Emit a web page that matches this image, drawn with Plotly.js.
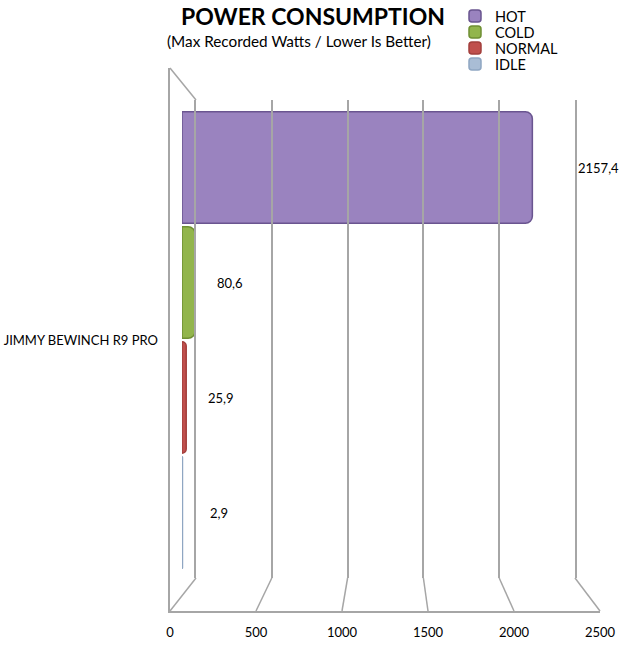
<!DOCTYPE html>
<html>
<head>
<meta charset="utf-8">
<script src="https://cdn.plot.ly/plotly-3.0.1.min.js"></script>
<style>
  html, body { margin: 0; padding: 0; background: #fff; }
  #chart { width: 620px; height: 650px; }
</style>
</head>
<body>
<div id="chart"></div>
<script>
// data
var category = 'JIMMY BEWINCH R9 PRO';
var seriesNames = ['IDLE', 'NORMAL', 'COLD', 'HOT'];
var seriesValues = [2.9, 25.9, 80.6, 2157.4];
var axisTicks = [0, 500, 1000, 1500, 2000, 2500];

var W = 620, H = 650;
function px(x) { return x / W; }
function py(y) { return 1 - y / H; }

var colors = {
    IDLE: '#a9bdd5',
    NORMAL: '#c0504d',
    COLD: '#92b54c',
    HOT: '#9a83bf'
};
var edges = {
    IDLE: '#8fa6c2',
    NORMAL: '#a33f3c',
    COLD: '#6f8f33',
    HOT: '#6a5590'
};
var labelShift = { IDLE: 26, NORMAL: 20, COLD: 20, HOT: 44 };
// one small legend per series so the rows can sit 16px apart
var legendIds = { HOT: 'legend', COLD: 'legend2', NORMAL: 'legend3', IDLE: 'legend4' };
var legendRow = { HOT: 0, COLD: 1, NORMAL: 2, IDLE: 3 };

// domains of the fake 3d box
var barDom = [px(182), px(588)];
var frontDom = [px(170), px(600)];
var backDom = [px(196), px(575)];
var backY = [py(578), py(100)];
var wallY = [py(611), py(68)];
var maxX = axisTicks[axisTicks.length - 1];
var frameGrey = '#a6a6a6';

var data = seriesNames.map(function (name, i) {
    return {
        type: 'bar',
        orientation: 'h',
        name: name,
        x: [seriesValues[i]],
        y: [category],
        legend: legendIds[name],
        marker: {
            color: colors[name],
            line: { color: edges[name], width: 1.5 }
        },
        hoverinfo: 'x+name'
    };
});
// empty traces so the frame subplots get drawn
data.push({ type: 'scatter', x: [], y: [], xaxis: 'x2', yaxis: 'y2', showlegend: false, hoverinfo: 'skip' });
data.push({ type: 'scatter', x: [], y: [], xaxis: 'x3', yaxis: 'y3', showlegend: false, hoverinfo: 'skip' });

var annotations = seriesNames.map(function (name, i) {
    return {
        x: seriesValues[i],
        xref: 'x',
        y: -0.375 + 0.25 * i,
        yref: 'y',
        text: seriesValues[i].toFixed(1).replace('.', ','),
        showarrow: false,
        xanchor: 'left',
        xshift: labelShift[name],
        font: { size: 13, color: '#000' }
    };
});
annotations.push({
    text: '(Max Recorded Watts / Lower Is Better)',
    xref: 'paper', yref: 'paper',
    x: px(299), y: py(41),
    xanchor: 'center', yanchor: 'middle',
    showarrow: false,
    font: { size: 15.3, color: '#000' }
});

// floor diagonals, from back grid to front ticks
var shapes = axisTicks.map(function (t) {
    return {
        type: 'line', xref: 'paper', yref: 'paper',
        x0: backDom[0] + (backDom[1] - backDom[0]) * t / maxX, y0: backY[0],
        x1: frontDom[0] + (frontDom[1] - frontDom[0]) * t / maxX, y1: wallY[0],
        line: { color: frameGrey, width: 1.5 }
    };
});
shapes.push({
    type: 'line', xref: 'paper', yref: 'paper',
    x0: frontDom[0], y0: wallY[1], x1: backDom[0], y1: backY[1],
    line: { color: frameGrey, width: 1.5 }
});

var layout = {
    width: W,
    height: H,
    margin: { l: 0, r: 0, t: 0, b: 0, pad: 0 },
    paper_bgcolor: '#ffffff',
    plot_bgcolor: 'rgba(0,0,0,0)',
    font: { family: 'Lato, "Open Sans", sans-serif', size: 13, color: '#000' },
    title: {
        text: '<b>POWER CONSUMPTION</b>',
        font: { size: 23, color: '#000' },
        x: px(313), xanchor: 'center',
        y: py(17), yanchor: 'middle'
    },
    barmode: 'group',
    bargap: 0,
    bargroupgap: 0.03,
    barcornerradius: 7,
    showlegend: true,
    xaxis: {
        domain: barDom,
        range: [0, maxX],
        showgrid: false, zeroline: false, showline: false,
        showticklabels: false,
        anchor: 'y'
    },
    yaxis: {
        domain: [py(570), py(110)],
        type: 'category',
        anchor: 'free',
        position: px(158),
        showgrid: false, zeroline: false, showline: false,
        ticks: '',
        tickfont: { size: 13 }
    },
    // front floor edge with the value labels
    xaxis2: {
        domain: frontDom,
        range: [0, maxX],
        anchor: 'y2',
        tickvals: axisTicks,
        showgrid: false, zeroline: false,
        showline: true, linecolor: frameGrey, linewidth: 1.5,
        ticks: '',
        ticklabelstandoff: 9,
        tickfont: { size: 13 }
    },
    yaxis2: {
        domain: wallY,
        range: [0, 1],
        anchor: 'x2',
        showgrid: false, zeroline: false,
        showline: true, linecolor: frameGrey, linewidth: 1.5,
        showticklabels: false, ticks: ''
    },
    // back wall grid
    xaxis3: {
        domain: backDom,
        range: [0, maxX],
        anchor: 'y3',
        tickvals: axisTicks,
        showgrid: true, gridcolor: frameGrey, gridwidth: 1.5,
        zeroline: false, showline: false,
        showticklabels: false, ticks: ''
    },
    yaxis3: {
        domain: backY,
        range: [0, 1],
        anchor: 'x3',
        showgrid: false, zeroline: false,
        showline: true, mirror: true, linecolor: frameGrey, linewidth: 1.5,
        showticklabels: false, ticks: ''
    },
    annotations: annotations,
    shapes: shapes
};

seriesNames.forEach(function (name) {
    layout[legendIds[name]] = {
        x: px(455), xanchor: 'left',
        y: py(16 * legendRow[name]), yanchor: 'top',
        itemwidth: 30,
        font: { size: 14.5, color: '#000' },
        bgcolor: 'rgba(0,0,0,0)'
    };
});

Plotly.newPlot('chart', data, layout, { displayModeBar: false });
</script>
</body>
</html>
